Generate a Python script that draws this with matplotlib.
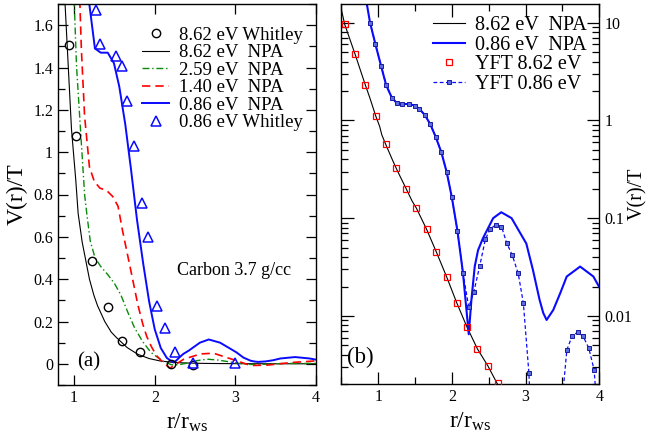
import numpy as np
import matplotlib
matplotlib.use("Agg")
import matplotlib.pyplot as plt
from matplotlib.ticker import MultipleLocator, FixedLocator, FuncFormatter, LogLocator, NullFormatter

plt.rcParams['font.family'] = ['Liberation Serif', 'DejaVu Serif']
plt.rcParams['mathtext.fontset'] = 'custom'
plt.rcParams['mathtext.rm'] = 'Liberation Serif'
plt.rcParams['mathtext.it'] = 'Liberation Serif:italic'

# ---- 8.62 eV NPA potential (shared by both panels) ----
npa862_r = [0.49, 0.546, 0.687, 0.827, 0.885, 0.967, 1.02, 1.05, 1.10, 1.19, 1.245,
            1.29, 1.38, 1.46, 1.52, 1.657, 1.79, 1.93, 2.065, 2.205, 2.347, 2.487,
            2.62, 2.8, 3.0, 3.5, 4.0]
npa862_v = [14.8, 9.6, 4.75, 2.29, 1.72, 1.11, 0.87, 0.71, 0.575, 0.40, 0.324,
            0.275, 0.20, 0.15, 0.126, 0.077, 0.045, 0.025, 0.0137, 0.0077, 0.0046, 0.0031,
            0.0020, 0.0013, 0.0008, 0.0003, 0.0001]

# ---- 0.86 eV NPA potential (shared by both panels) ----
npa086_r = [0.837, 0.89, 0.963, 1.04, 1.109, 1.185, 1.258, 1.33, 1.417, 1.494, 1.56,
            1.635, 1.707, 1.78, 1.857, 1.93, 2.0, 2.075, 2.15, 2.229, 2.265, 2.31,
            2.355, 2.42, 2.56, 2.67, 2.81, 3.01, 3.10, 3.19, 3.24, 3.285, 3.375,
            3.47, 3.558, 3.74, 3.92, 4.0]
npa086_v = [17.0, 10.0, 6.0, 3.6, 2.29, 1.71, 1.49, 1.47, 1.47, 1.42, 1.31,
            1.13, 0.914, 0.68, 0.473, 0.295, 0.163, 0.0746, 0.0278, 0.0065, 0.0146, 0.032,
            0.047, 0.062, 0.10, 0.115, 0.10, 0.055, 0.0295, 0.0146, 0.0107, 0.0091, 0.0115,
            0.0171, 0.0253, 0.032, 0.0253, 0.0197]

# ---- 2.59 eV and 1.40 eV NPA potentials (panel a) ----
npa259_r = [1.0, 1.03, 1.09, 1.13, 1.16, 1.20, 1.26, 1.33, 1.42, 1.50, 1.58, 1.67,
            1.75, 1.85, 1.95, 2.0, 2.11, 2.21, 2.30, 2.40, 2.52, 2.65, 2.78, 2.9,
            3.05, 3.19, 3.4, 3.6, 4.0]
npa259_v = [1.72, 1.405, 1.04, 0.80, 0.70, 0.58, 0.50, 0.46, 0.42, 0.38, 0.325, 0.24,
            0.17, 0.105, 0.055, 0.04, 0.011, -0.005, -0.004, 0.003, 0.015, 0.022, 0.018, 0.011,
            0.002, -0.003, -0.002, 0.002, 0.002]

npa140_r = [1.07, 1.09, 1.13, 1.19, 1.25, 1.32, 1.40, 1.48, 1.545, 1.60, 1.66, 1.72,
            1.79, 1.85, 1.90, 1.96, 2.02, 2.11, 2.19, 2.25, 2.36, 2.57, 2.73, 2.98,
            3.19, 3.4, 3.69, 4.0]
npa140_v = [1.72, 1.485, 1.17, 0.93, 0.862, 0.83, 0.82, 0.79, 0.744, 0.63, 0.52, 0.41,
            0.28, 0.19, 0.13, 0.08, 0.04, 0.003, -0.02, -0.005, 0.022, 0.047, 0.05, 0.019,
            -0.008, -0.006, 0.006, 0.014]

# ---- Whitley reference points (panel a) ----
whit862_r = [0.94, 1.02, 1.225, 1.42, 1.59, 1.82, 2.2, 2.47]
whit862_v = [1.505, 1.078, 0.484, 0.268, 0.107, 0.054, 0.0, -0.005]

whit086_r = [1.266, 1.325, 1.52, 1.595, 1.66, 1.74, 1.845, 1.92, 2.03, 2.13, 2.25, 2.475, 3.0]
whit086_v = [1.674, 1.51, 1.456, 1.406, 1.243, 1.027, 0.76, 0.599, 0.274, 0.167, 0.058, 0.005, 0.005]

# ---- YFT points (panel b) ----
yft862_r = [0.546, 0.687, 0.827, 0.967, 1.10, 1.245, 1.38, 1.52, 1.657, 1.79, 1.93,
            2.065, 2.205, 2.347, 2.487, 2.62]
yft862_v = [9.6, 4.75, 2.29, 1.11, 0.575, 0.324, 0.2, 0.126, 0.077, 0.0449, 0.0251,
            0.0137, 0.00768, 0.00464, 0.00307, 0.00204]

yft086_r = [0.89, 0.963, 1.04, 1.109, 1.185, 1.258, 1.33, 1.417, 1.494, 1.56, 1.635,
            1.707, 1.78, 1.857, 1.93, 2.0, 2.075, 2.15, 2.229, 2.297, 2.378, 2.456,
            2.524, 2.596, 2.673, 2.745, 2.82, 2.90, 2.97, 3.045,
            3.56, 3.634, 3.707, 3.78, 3.857, 3.93]
yft086_v = [10.0, 6.0, 3.6, 2.29, 1.71, 1.49, 1.47, 1.47, 1.42, 1.31, 1.13,
            0.914, 0.68, 0.473, 0.295, 0.163, 0.0746, 0.0278, 0.0123, 0.0175, 0.0325, 0.0616,
            0.078, 0.0855, 0.082, 0.0555, 0.0417, 0.0272, 0.0135, 0.0026,
            0.0045, 0.0063, 0.0068, 0.0062, 0.0047, 0.0028]
# where the YFT curve leaves the log axis (goes negative)
yft086_line_r = yft086_r[:30] + [3.065, np.nan, 3.49] + yft086_r[30:] + [3.965]
yft086_line_v = yft086_v[:30] + [0.0012, np.nan, 0.0012] + yft086_v[30:] + [0.0012]

BLUE = '#0a0aff'
GREEN = '#0a8a0a'
YFT_FACE = '#5a6ee0'
YFT_EDGE = '#1a1aa0'

fig = plt.figure(figsize=(6.51, 4.38), dpi=100)
axa = fig.add_axes([58/651, 1-385/438, 258/651, 381/438])
axb = fig.add_axes([341.3/651, 1-384.3/438, 258/651, 380.3/438])

# ---------------- panel (a) ----------------
axa.plot(whit862_r, whit862_v, 'o', ms=6.0, mfc='none', mec='black', mew=1.0,
         label='8.62 eV Whitley', zorder=4)
axa.plot(npa862_r, npa862_v, '-', color='black', lw=0.8, label='8.62 eV  NPA')
axa.plot(npa259_r, npa259_v, color=GREEN, lw=1.0, dashes=(5, 2, 1, 2), label='2.59 eV  NPA')
axa.plot(npa140_r, npa140_v, color='red', lw=1.2, dashes=(5, 3), label='1.40 eV  NPA')
axa.plot(npa086_r, npa086_v, '-', color=BLUE, lw=1.4, label='0.86 eV  NPA')
axa.plot(whit086_r, whit086_v, '^', ms=6.5, mfc='none', mec=BLUE, mew=1.1,
         label='0.86 eV Whitley', zorder=4)

axa.set_xlim(0.8, 4.0)
axa.set_ylim(-0.1, 1.7)
axa.xaxis.set_major_locator(FixedLocator([1, 2, 3, 4]))
axa.yaxis.set_major_locator(MultipleLocator(0.2))
axa.yaxis.set_minor_locator(MultipleLocator(0.1))
axa.yaxis.set_major_formatter(FuncFormatter(lambda v, p: '%g' % round(v, 3)))
axa.tick_params(which='both', direction='in', top=True, right=True, labelsize=11.5)
axa.tick_params(which='major', length=7, width=0.9)
axa.tick_params(which='minor', length=5, width=0.9)
axa.set_xlabel(r'r/r$_{\rm ws}$', fontsize=17, labelpad=4)
axa.set_ylabel('V(r)/T', fontsize=17, labelpad=4)
axa.text(2.27, 0.44, 'Carbon 3.7 g/cc', fontsize=13, va='center', ha='left')
axa.text(0.075, 0.06, '(a)', transform=axa.transAxes, fontsize=15, va='center', ha='left')
axa.legend(loc='upper right', bbox_to_anchor=(1.0, 0.975), frameon=False, fontsize=13.5,
           handlelength=1.4, handletextpad=0.55, labelspacing=0.02, borderaxespad=0.3,
           numpoints=1)

# ---------------- panel (b) ----------------
axb.plot(npa862_r, npa862_v, '-', color='black', lw=0.8, label='8.62 eV  NPA')
axb.plot(npa086_r, npa086_v, '-', color=BLUE, lw=1.5, label='0.86 eV  NPA')
axb.plot(yft862_r, yft862_v, 's', ms=4.2, mfc='none', mec='red', mew=0.9,
         label='YFT 8.62 eV', zorder=4)
axb.plot(yft086_line_r, yft086_line_v, color=BLUE, lw=0.9, dashes=(3, 2))
axb.plot(yft086_r, yft086_v, 's', ms=2.8, mfc=YFT_FACE, mec=YFT_EDGE, mew=0.7, zorder=4)
# combined legend handle for the dashed YFT curve with markers
axb.plot([], [], color=BLUE, lw=0.9, dashes=(3, 2), marker='s', ms=2.8,
         mfc=YFT_FACE, mec=YFT_EDGE, mew=0.7, label='YFT 0.86 eV')

axb.set_yscale('log')
axb.set_xlim(0.5, 4.0)
axb.set_ylim(0.002, 15.5)
axb.xaxis.set_major_locator(FixedLocator([1, 2, 3, 4]))
axb.xaxis.set_minor_locator(MultipleLocator(0.5))
axb.yaxis.set_major_locator(LogLocator(base=10, numticks=10))
axb.yaxis.set_minor_locator(LogLocator(base=10, subs=np.arange(2, 10), numticks=20))
axb.yaxis.set_minor_formatter(NullFormatter())
axb.yaxis.set_major_formatter(FuncFormatter(lambda v, p: '%g' % v))
axb.tick_params(which='both', direction='in', top=True, right=True, left=True,
                labelleft=False, labelright=True, labelsize=11.5)
axb.tick_params(which='major', length=9, width=0.9)
axb.tick_params(which='minor', length=5, width=0.9)
axb.set_xlabel(r'r/r$_{\rm ws}$', fontsize=17, labelpad=4)
# right-hand axis title placed as plain text so it stays inside the canvas
axb.text(1.148, 0.5, 'V(r)/T', transform=axb.transAxes, rotation=90, fontsize=14.5,
         ha='center', va='center')
axb.text(0.022, 0.07, '(b)', transform=axb.transAxes, fontsize=16.5, va='center', ha='left')
axb.legend(loc='upper right', bbox_to_anchor=(1.0, 1.0), frameon=False, fontsize=14.5,
           handlelength=1.6, handletextpad=0.5, labelspacing=0.02, borderaxespad=0.2,
           numpoints=1)

for ax in (axa, axb):
    for s in ax.spines.values():
        s.set_linewidth(1.0)

fig.savefig('out.png', dpi=100)
